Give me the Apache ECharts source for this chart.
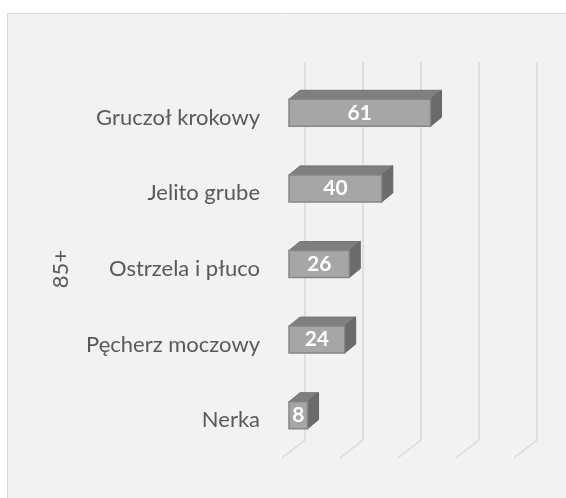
<!DOCTYPE html>
<html>
<head>
<meta charset="utf-8">
<title>85+</title>
<style>
  html, body { margin: 0; padding: 0; background: #ffffff; }
  #main { width: 566px; height: 498px; }
</style>
<script src="https://cdn.jsdelivr.net/npm/echarts@6/dist/echarts.min.js"></script>
</head>
<body>
<div id="main"></div>
<script type="text/javascript">
// dane
var categories = ['Gruczoł krokowy', 'Jelito grube', 'Ostrzela i płuco', 'Pęcherz moczowy', 'Nerka'];
var values = [61, 40, 26, 24, 8];
var xTicks = [0, 25, 50, 75, 100];
var groupName = '85+';

var myChart = echarts.init(document.getElementById('main'));

// przesuniecia "3D" (px)
var FX = -16, FY = 13;   // przednia sciana slupka
var DX = 11, DY = -9;    // glebokosc slupka
var BAR_H = 27;
var FONT = 'Lato, "Open Sans", sans-serif';

function renderBar(params, api) {
    var v = api.value(0);
    var c = api.value(1);
    var p0 = api.coord([0, c]);
    var p1 = api.coord([v, c]);
    var x0 = p0[0] + FX, x1 = p1[0] + FX;
    var yc = p0[1] + FY;
    var top = yc - BAR_H / 2, bot = yc + BAR_H / 2;
    return {
        type: 'group',
        children: [
            {
                type: 'polygon',
                shape: { points: [[x0, top], [x0 + DX, top + DY], [x1 + DX, top + DY], [x1, top]] },
                style: { fill: '#7f7f7f', stroke: '#747474', lineWidth: 1 }
            },
            {
                type: 'polygon',
                shape: { points: [[x1, top], [x1 + DX, top + DY], [x1 + DX, bot + DY], [x1, bot]] },
                style: { fill: '#6b6b6b', stroke: '#666666', lineWidth: 1 }
            },
            {
                type: 'rect',
                shape: { x: x0, y: top, width: x1 - x0, height: BAR_H },
                style: { fill: '#a6a6a6', stroke: '#858585', lineWidth: 1.5 }
            },
            {
                type: 'text',
                style: {
                    text: String(v),
                    x: (x0 + x1) / 2, y: yc,
                    align: 'center', verticalAlign: 'middle',
                    fill: '#ffffff',
                    font: 'bold 21px ' + FONT
                }
            }
        ]
    };
}

// skosne linie podlogi
function renderFloor(params, api) {
    var t = api.value(0);
    var p = api.coord([t, 0]);
    var yb = params.coordSys.y + params.coordSys.height;
    return {
        type: 'line',
        shape: { x1: p[0], y1: yb, x2: p[0] - 23, y2: yb + 18 },
        style: { stroke: '#d9d9d9', lineWidth: 1.5 }
    };
}

var option = {
    backgroundColor: '#ffffff',
    animation: false,
    graphic: [
        {
            type: 'rect',
            z: -10,
            shape: { x: 7.5, y: 13.5, width: 600, height: 600 },
            style: { fill: '#f2f2f2', stroke: '#d9d9d9', lineWidth: 1 }
        },
        {
            type: 'text',
            x: 61, y: 269,
            rotation: Math.PI / 2,
            style: {
                text: groupName,
                align: 'center', verticalAlign: 'middle',
                fill: '#595959',
                font: '22px ' + FONT
            }
        }
    ],
    grid: { left: 305, right: 29, top: 62, bottom: 58 },
    xAxis: {
        type: 'value',
        min: 0, max: 100, interval: 25,
        axisLine: { show: false },
        axisTick: { show: false },
        axisLabel: { show: false },
        splitLine: { lineStyle: { color: '#d9d9d9', width: 1.5 } }
    },
    yAxis: {
        type: 'category',
        data: categories,
        inverse: true,
        axisLine: { show: false },
        axisTick: { show: false },
        splitLine: { show: false },
        axisLabel: {
            margin: 45,
            verticalAlign: 'top',
            lineHeight: 36,
            color: '#595959',
            fontSize: 22,
            fontFamily: FONT
        }
    },
    series: [
        {
            type: 'custom',
            renderItem: renderFloor,
            data: xTicks.map(function (t) { return [t]; }),
            silent: true,
            z: 1
        },
        {
            type: 'custom',
            renderItem: renderBar,
            encode: { x: 0, y: 1 },
            data: values.map(function (v, i) { return [v, i]; }),
            z: 2
        }
    ]
};

myChart.setOption(option);
</script>
</body>
</html>
